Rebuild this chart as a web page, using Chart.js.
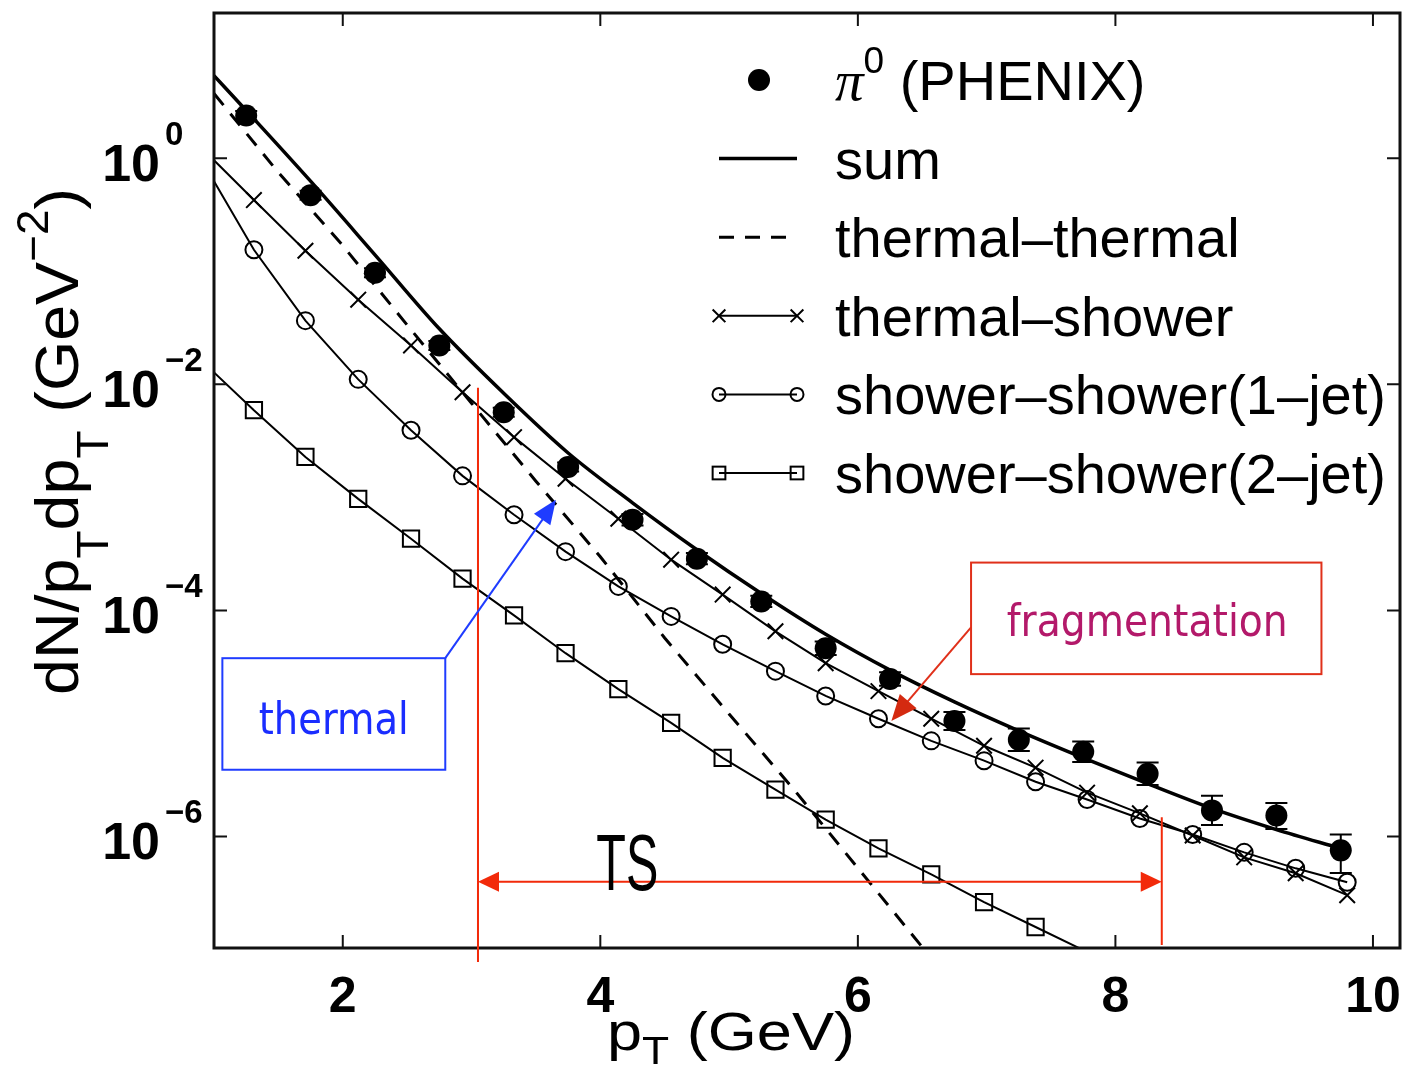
<!DOCTYPE html>
<html>
<head>
<meta charset="utf-8">
<title>pi0 spectrum: thermal and shower recombination</title>
<script src="https://cdn.jsdelivr.net/npm/chart.js@4.4.1/dist/chart.umd.min.js"></script>
<style>
  html, body { margin: 0; padding: 0; background: #fff; }
  #wrap { width: 1413px; height: 1073px; }
</style>
</head>
<body>
<div id="wrap"><canvas id="spec" width="1413" height="1073"></canvas></div>
<script>
// ------------------------------------------------------------
// data (pT in GeV, dN/pTdpT in GeV^-2)
// ------------------------------------------------------------
const xTicks = [2, 4, 6, 8, 10];
const yTicks = [1, 1e-2, 1e-4, 1e-6];

// pi0 (PHENIX) measured points, error bars in decades (up / down)
const pi0X     = [1.25, 1.75, 2.25, 2.75, 3.25, 3.75, 4.25, 4.75, 5.25, 5.75, 6.25, 6.75, 7.25, 7.75, 8.25, 8.75, 9.25, 9.75];
const pi0Y     = [2.39, 0.472, 0.097, 0.0221, 5.66e-3, 1.86e-3, 6.34e-4, 2.87e-4, 1.20e-4, 4.62e-5, 2.47e-5, 1.05e-5, 7.16e-6, 5.61e-6, 3.59e-6, 1.70e-6, 1.53e-6, 7.53e-7];
const pi0ErrUp = [0.04, 0.04, 0.04, 0.04, 0.04, 0.04, 0.05, 0.05, 0.05, 0.06, 0.06, 0.08, 0.10, 0.09, 0.10, 0.13, 0.11, 0.14];
const pi0ErrDn = [0.04, 0.04, 0.04, 0.04, 0.04, 0.04, 0.05, 0.05, 0.05, 0.06, 0.06, 0.08, 0.10, 0.09, 0.10, 0.13, 0.12, 0.20];

// sum
const sumX = [1, 1.25, 1.75, 2.25, 2.75, 3.25, 3.75, 4.25, 4.75, 5.25, 5.75, 6.25, 6.75, 7.25, 7.75, 8.25, 8.75, 9.25, 9.75];
const sumY = [5.39, 2.65, 0.627, 0.140, 0.0310, 8.33e-3, 2.47e-3, 8.95e-4, 3.44e-4, 1.41e-4, 6.15e-5, 2.96e-5, 1.55e-5, 8.59e-6, 4.96e-6, 2.93e-6, 1.77e-6, 1.15e-6, 7.84e-7];

// thermal-thermal (dashed)
const ttX = [1, 1.5, 2, 2.5, 3, 3.5, 4, 4.5, 5, 5.5, 6, 6.5, 6.6];
const ttY = [3.74, 0.748, 0.169, 0.0335, 6.8e-3, 1.39e-3, 2.98e-4, 5.7e-5, 1.21e-5, 2.63e-6, 5.25e-7, 1.05e-7, 7.2e-8];

// curves with markers (first value at pT = 1 carries no marker)
const markX = [1.31, 1.71, 2.12, 2.53, 2.93, 3.33, 3.73, 4.14, 4.55, 4.95, 5.36, 5.75, 6.16, 6.57, 6.98, 7.38, 7.78, 8.19, 8.60, 9.00, 9.40, 9.80];
const tsX  = [1, ...markX];
const tsY  = [0.960, 0.427, 0.152, 0.0561, 0.0221, 8.51e-3, 3.41e-3, 1.46e-3, 6.47e-4, 2.81e-4, 1.38e-4, 6.53e-5, 3.41e-5, 1.93e-5, 1.10e-5, 6.34e-6, 4.06e-6, 2.44e-6, 1.60e-6, 1.02e-6, 6.53e-7, 4.72e-7, 3.02e-7];
const ss1X = [1, ...markX];
const ss1Y = [0.627, 0.155, 0.0366, 0.01107, 3.93e-3, 1.55e-3, 7.01e-4, 3.31e-4, 1.63e-4, 8.85e-5, 5.01e-5, 2.90e-5, 1.75e-5, 1.10e-5, 7.01e-6, 4.68e-6, 3.05e-6, 2.12e-6, 1.44e-6, 1.04e-6, 7.23e-7, 5.22e-7, 3.93e-7];
const ss2X = [1, ...markX.slice(0, 17)];
const ss2Y = [0.01276, 5.90e-3, 2.28e-3, 9.70e-4, 4.31e-4, 1.91e-4, 9.03e-5, 4.18e-5, 2.01e-5, 1.01e-5, 4.96e-6, 2.59e-6, 1.41e-6, 7.84e-7, 4.62e-7, 2.62e-7, 1.58e-7, 9.5e-8];

const pts = (xs, ys) => xs.map((x, i) => ({ x, y: ys[i] }));

// annotation spots, in (pT, log10 y)
const tsRange = [3.05, 8.36];

const SANS = '"Liberation Sans", Arial, Helvetica, sans-serif';

// text made of pieces [text, font, dy], optionally stretched to width w
function rich(ctx, parts, x, y, w, align) {
  let total = 0;
  const widths = parts.map(p => { ctx.font = p[1]; const m = ctx.measureText(p[0]).width; total += m; return m; });
  const sx = w ? w / total : 1;
  const start = align === 'center' ? x - total * sx / 2 : align === 'right' ? x - total * sx : x;
  ctx.save();
  ctx.translate(start, y);
  ctx.scale(sx, 1);
  ctx.textAlign = 'left';
  ctx.textBaseline = 'alphabetic';
  let cx = 0;
  parts.forEach((p, i) => { ctx.font = p[1]; ctx.fillText(p[0], cx, p[2] || 0); cx += widths[i]; });
  ctx.restore();
}

function marker(ctx, style, px, py, r) {
  ctx.beginPath();
  if (style === 'dot') { ctx.arc(px, py, r, 0, 2 * Math.PI); ctx.fill(); return; }
  if (style === 'circle') { ctx.arc(px, py, r, 0, 2 * Math.PI); ctx.stroke(); return; }
  const s = r * Math.SQRT1_2;
  if (style === 'rect') { ctx.strokeRect(px - s, py - s, 2 * s, 2 * s); return; }
  if (style === 'crossRot') {
    ctx.moveTo(px - s, py - s); ctx.lineTo(px + s, py + s);
    ctx.moveTo(px + s, py - s); ctx.lineTo(px - s, py + s);
    ctx.stroke();
  }
}

function arrowHead(ctx, x0, y0, x1, y1, len, half) {
  const a = Math.atan2(y1 - y0, x1 - x0);
  ctx.beginPath();
  ctx.moveTo(x1, y1);
  ctx.lineTo(x1 - len * Math.cos(a) + half * Math.sin(a), y1 - len * Math.sin(a) - half * Math.cos(a));
  ctx.lineTo(x1 - len * Math.cos(a) - half * Math.sin(a), y1 - len * Math.sin(a) + half * Math.cos(a));
  ctx.closePath();
  ctx.fill();
}

// error bars on the PHENIX points
const errorBars = {
  id: 'errorBars',
  beforeDatasetsDraw(chart) {
    const { ctx, scales: { x, y } } = chart;
    ctx.save();
    ctx.strokeStyle = '#000';
    ctx.lineWidth = 2;
    pi0X.forEach((v, i) => {
      const px = x.getPixelForValue(v);
      const hi = y.getPixelForValue(pi0Y[i] * Math.pow(10, pi0ErrUp[i]));
      const lo = y.getPixelForValue(pi0Y[i] / Math.pow(10, pi0ErrDn[i]));
      ctx.beginPath();
      ctx.moveTo(px, hi); ctx.lineTo(px, lo);
      ctx.moveTo(px - 11, hi); ctx.lineTo(px + 11, hi);
      ctx.moveTo(px - 11, lo); ctx.lineTo(px + 11, lo);
      ctx.stroke();
    });
    ctx.restore();
  }
};

// box, inward ticks, tick labels, axis titles, legend
const frame = {
  id: 'frame',
  afterDatasetsDraw(chart) {
    const { ctx, chartArea: a, scales: { x, y } } = chart;
    ctx.save();
    ctx.strokeStyle = '#111';
    ctx.fillStyle = '#000';
    ctx.lineWidth = 3;
    ctx.strokeRect(a.left, a.top, a.right - a.left, a.bottom - a.top);

    ctx.lineWidth = 2;
    ctx.beginPath();
    xTicks.forEach(v => {
      const px = x.getPixelForValue(v);
      ctx.moveTo(px, a.bottom); ctx.lineTo(px, a.bottom - 13);
      ctx.moveTo(px, a.top); ctx.lineTo(px, a.top + 13);
    });
    yTicks.forEach(v => {
      const py = y.getPixelForValue(v);
      ctx.moveTo(a.left, py); ctx.lineTo(a.left + 13, py);
      ctx.moveTo(a.right, py); ctx.lineTo(a.right - 13, py);
    });
    ctx.stroke();

    // tick labels
    xTicks.forEach(v => {
      rich(ctx, [[String(v), 'bold 50px ' + SANS]], x.getPixelForValue(v), a.bottom + 64, 0, 'center');
    });
    yTicks.forEach(v => {
      const py = y.getPixelForValue(v);
      const e = Math.round(Math.log10(v));
      rich(ctx, [['10', 'bold 52px ' + SANS]], a.left - 54, py + 23, 0, 'right');
      rich(ctx, [[(e < 0 ? '\u2212' : '') + Math.abs(e), 'bold 33px ' + SANS]], a.left - 49, py - 13, 0, 'left');
    });

    // axis titles
    rich(ctx, [
      ['p', '54px ' + SANS],
      ['T', '38px ' + SANS, 14],
      [' (GeV)', '54px ' + SANS]
    ], 607, 1050, 248, 'left');

    ctx.save();
    ctx.translate(78, 695);
    ctx.rotate(-Math.PI / 2);
    rich(ctx, [
      ['dN/p', '62px ' + SANS],
      ['T', '44px ' + SANS, 30],
      ['dp', '62px ' + SANS],
      ['T', '44px ' + SANS, 30],
      [' (GeV', '62px ' + SANS],
      ['\u22122', '44px ' + SANS, -30],
      [')', '62px ' + SANS]
    ], 0, 0, 507, 'left');
    ctx.restore();

    // legend
    const rowY0 = 80, rowStep = 78.6, sx0 = 719, sx1 = 797, tx = 835;
    chart.data.datasets.forEach((ds, i) => {
      const ry = rowY0 + i * rowStep;
      ctx.strokeStyle = '#000';
      if (ds.showLine) {
        ctx.lineWidth = ds.borderWidth;
        ctx.setLineDash(ds.borderDash || []);
        ctx.beginPath(); ctx.moveTo(sx0, ry); ctx.lineTo(sx1, ry); ctx.stroke();
        ctx.setLineDash([]);
        if (ds.legendMark) {
          ctx.lineWidth = 2;
          marker(ctx, ds.pointStyle, sx0, ry, ds.legendMark);
          marker(ctx, ds.pointStyle, sx1, ry, ds.legendMark);
        }
      } else {
        marker(ctx, 'dot', (sx0 + sx1) / 2 + 1, ry, 11);
      }
      const parts = i === 0
        ? [['\u03c0', 'italic 57px "Liberation Serif", "DejaVu Serif", serif'], ['0', '37px ' + SANS, -27], [' (PHENIX)', '56px ' + SANS]]
        : [[ds.label, '56px ' + SANS]];
      rich(ctx, parts, tx, ry + 20, 0, 'left');
    });
    ctx.restore();
  }
};

// callouts drawn on top of the figure
const callouts = {
  id: 'callouts',
  afterDraw(chart) {
    const { ctx, scales: { x, y } } = chart;
    const P = (gx, ly) => [x.getPixelForValue(gx), y.getPixelForValue(Math.pow(10, ly))];
    const red = '#f22a0a';
    ctx.save();

    // TS window
    ctx.strokeStyle = red;
    ctx.fillStyle = red;
    ctx.lineWidth = 2;
    const [l0x, l0y] = P(tsRange[0], -2.03), [, l0b] = P(tsRange[0], -7.11);
    const [l1x, l1y] = P(tsRange[1], -5.83), [, l1b] = P(tsRange[1], -6.96);
    const [, ay] = P(tsRange[0], -6.40);
    ctx.beginPath();
    ctx.moveTo(l0x, l0y); ctx.lineTo(l0x, l0b);
    ctx.moveTo(l1x, l1y); ctx.lineTo(l1x, l1b);
    ctx.moveTo(l0x + 18, ay); ctx.lineTo(l1x - 18, ay);
    ctx.stroke();
    arrowHead(ctx, l1x, ay, l0x, ay, 21, 10);
    arrowHead(ctx, l0x, ay, l1x, ay, 21, 10);

    ctx.fillStyle = '#000';
    const [tsx, tsy] = P(4.21, -6.476);
    rich(ctx, [['TS', '80px "Liberation Sans Narrow", ' + SANS]], tsx, tsy, 62, 'center');

    // thermal callout
    const blue = '#1f3cff';
    const [b0x, b0y] = P(1.065, -4.423), [b1x, b1y] = P(2.796, -5.410);
    ctx.strokeStyle = blue;
    ctx.fillStyle = blue;
    ctx.lineWidth = 2;
    ctx.strokeRect(b0x, b0y, b1x - b0x, b1y - b0y);
    const [btx, bty] = P(3.655, -3.022);
    ctx.beginPath(); ctx.moveTo(b1x, b0y); ctx.lineTo(btx - 8, bty + 12); ctx.stroke();
    arrowHead(ctx, b1x, b0y, btx, bty, 24, 10);
    ctx.fillStyle = '#1a2dff';
    const [ttx, tty] = P(1.93, -5.093);
    rich(ctx, [['thermal', '44px "DejaVu Sans", sans-serif']], ttx, tty, 150, 'center');

    // fragmentation callout
    const [f0x, f0y] = P(6.879, -3.577), [f1x, f1y] = P(9.60, -4.564);
    ctx.strokeStyle = '#e0301a';
    ctx.strokeRect(f0x, f0y, f1x - f0x, f1y - f0y);
    const [fax, fay] = P(6.879, -4.150), [ftx, fty] = P(6.26, -4.978);
    ctx.beginPath(); ctx.moveTo(fax, fay); ctx.lineTo(ftx + 10, fty - 12); ctx.stroke();
    ctx.fillStyle = '#d42a10';
    arrowHead(ctx, fax, fay, ftx, fty, 26, 11);
    ctx.fillStyle = '#b3196a';
    const [fcx, fcy] = P(8.247, -4.229);
    rich(ctx, [['fragmentation', '44px "DejaVu Sans", sans-serif']], fcx, fcy, 281, 'center');

    ctx.restore();
  }
};

new Chart(document.getElementById('spec'), {
  type: 'scatter',
  data: {
    datasets: [
      {
        label: 'π0 (PHENIX)',
        data: pts(pi0X, pi0Y),
        showLine: false,
        pointStyle: 'circle',
        pointRadius: 11,
        backgroundColor: '#000',
        borderColor: '#000',
        borderWidth: 0
      },
      {
        label: 'sum',
        data: pts(sumX, sumY),
        showLine: true,
        borderColor: '#000',
        borderWidth: 3.5,
        pointRadius: 0,
        cubicInterpolationMode: 'monotone',
        clip: 0
      },
      {
        label: 'thermal\u2013thermal',
        data: pts(ttX, ttY),
        showLine: true,
        borderColor: '#000',
        borderWidth: 3,
        borderDash: [15, 11],
        pointRadius: 0,
        clip: 0
      },
      {
        label: 'thermal\u2013shower',
        data: pts(tsX, tsY),
        showLine: true,
        borderColor: '#000',
        borderWidth: 2,
        pointStyle: 'crossRot',
        pointRadius: c => c.dataIndex === 0 ? 0 : 11,
        pointBorderWidth: 2,
        pointBackgroundColor: 'rgba(0,0,0,0)',
        legendMark: 9,
        clip: 0
      },
      {
        label: 'shower\u2013shower(1\u2013jet)',
        data: pts(ss1X, ss1Y),
        showLine: true,
        borderColor: '#000',
        borderWidth: 2,
        pointStyle: 'circle',
        pointRadius: c => c.dataIndex === 0 ? 0 : 8.5,
        pointBorderWidth: 2,
        pointBackgroundColor: 'rgba(0,0,0,0)',
        legendMark: 6.5,
        clip: 0
      },
      {
        label: 'shower\u2013shower(2\u2013jet)',
        data: pts(ss2X, ss2Y),
        showLine: true,
        borderColor: '#000',
        borderWidth: 2,
        pointStyle: 'rect',
        pointRadius: c => (c.dataIndex === 0 || c.dataIndex === ss2X.length - 1) ? 0 : 11.5,
        pointBorderWidth: 2,
        pointBackgroundColor: 'rgba(0,0,0,0)',
        legendMark: 9,
        clip: 0
      }
    ]
  },
  options: {
    responsive: false,
    animation: false,
    devicePixelRatio: 1,
    events: [],
    layout: { padding: { left: 214, right: 8, top: 9, bottom: 125 } },
    plugins: { legend: { display: false }, tooltip: { enabled: false } },
    scales: {
      x: { type: 'linear', min: 1, max: 10.21, display: false },
      y: { type: 'logarithmic', min: 1.03e-7, max: 19.3, display: false }
    }
  },
  plugins: [errorBars, frame, callouts]
});
</script>
</body>
</html>
